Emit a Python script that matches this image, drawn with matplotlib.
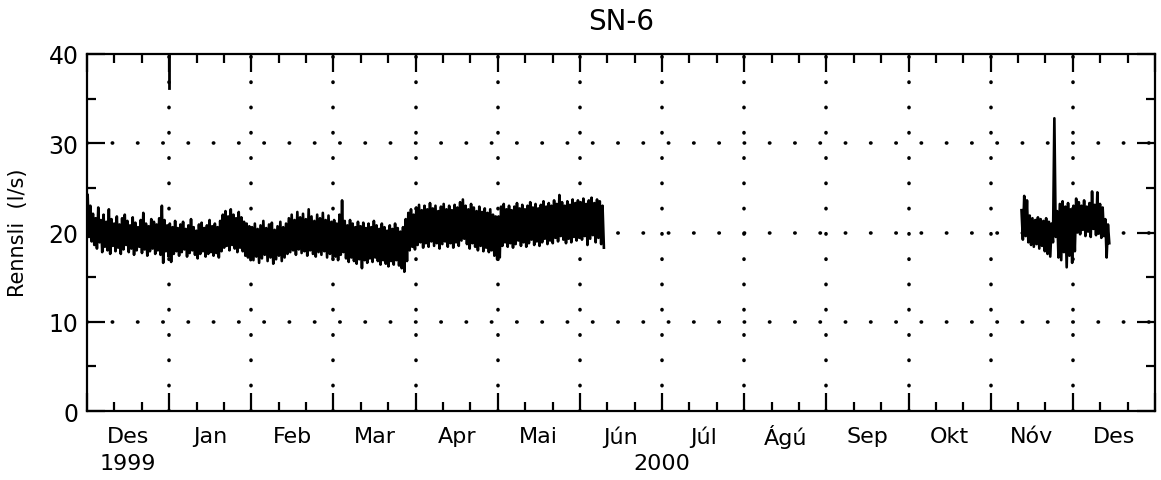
import numpy as np
import pandas as pd
import matplotlib
matplotlib.use("Agg")
import matplotlib.pyplot as plt

# SN-6 flow, daily high and low readings (l/s)
# first logger run: 1 Dec 1999 - 9 Jun 2000
start1 = "1999-12-01"
hi1 = [24.2, 23.0, 22.1, 21.6, 22.8, 21.4, 22.0, 21.2, 22.6, 21.5, 21.0, 21.8, 20.9, 21.6, 22.0, 21.3,
       20.8, 21.7, 21.1, 20.6, 21.4, 22.2, 21.0, 20.7, 21.5, 21.2, 20.9, 21.6, 23.0, 21.4, 20.8,  # des
       21.0, 20.6, 21.3, 20.5, 20.9, 21.2, 20.4, 20.8, 21.5, 20.6, 20.2, 20.9, 21.1, 20.5, 20.8, 21.4,
       20.7, 21.0, 20.6, 21.3, 22.0, 22.4, 21.8, 22.6, 22.0, 21.6, 22.3, 21.7, 21.2, 21.0, 20.7,  # jan
       20.6, 21.0, 20.4, 20.8, 21.3, 20.5, 20.9, 21.1, 20.3, 20.7, 21.2, 20.6, 21.0, 21.6, 22.0, 21.4,
       22.3, 21.7, 22.1, 21.5, 22.6, 21.8, 21.3, 22.0, 21.6, 22.2, 21.4, 21.9, 21.2,  # feb
       21.4, 21.0, 22.0, 23.6, 21.3, 20.8, 21.4, 21.0, 20.6, 21.2, 20.7, 21.1, 20.5, 21.0, 20.6, 21.3,
       20.8, 20.4, 21.0, 20.6, 20.2, 20.8, 20.4, 21.0, 20.5, 20.1, 20.6, 21.5, 22.2, 22.6, 22.0,  # mar
       22.8, 23.1, 22.5, 23.0, 22.6, 23.3, 22.7, 23.0, 22.4, 22.9, 23.2, 22.6, 23.0, 22.5, 23.1, 22.8,
       23.4, 23.7, 23.0, 22.6, 23.2, 22.8, 22.4, 22.9, 22.3, 22.7, 22.2, 22.6, 22.0, 21.8,  # apr
       21.8, 22.9, 23.2, 22.6, 23.0, 22.5, 22.9, 23.3, 22.7, 23.1, 22.6, 23.0, 23.4, 22.8, 23.2, 22.7,
       23.1, 23.5, 22.9, 23.3, 23.0, 23.6, 23.2, 24.2, 23.4, 23.0, 23.5, 23.1, 23.7, 23.3, 23.6,  # mai
       23.4, 23.8, 23.2, 23.6, 23.9, 23.3, 23.7, 23.5, 23.0]  # jun
lo1 = [19.5, 19.0, 18.6, 18.2, 18.9, 17.8, 18.4, 18.0, 17.6, 18.5, 17.9, 18.3, 17.6, 18.1, 18.6, 17.8,
       18.2, 17.5, 18.0, 18.4, 17.7, 18.1, 17.4, 17.9, 18.2, 17.6, 18.0, 17.5, 16.6, 17.9, 17.3,
       16.7, 17.6, 17.9, 17.4, 17.8, 18.1, 17.3, 17.7, 18.0, 17.5, 17.1, 17.6, 17.9, 17.3, 17.6, 17.8,
       17.4, 17.7, 17.2, 17.9, 18.3, 18.5, 18.0, 18.6, 18.2, 17.8, 18.3, 17.9, 17.4, 17.2, 16.9,
       16.9, 17.3, 16.6, 17.1, 17.5, 16.8, 17.2, 16.5, 17.0, 17.4, 16.8, 17.2, 17.6, 17.8, 18.0, 17.5,
       18.1, 17.7, 17.9, 17.4, 18.0, 17.6, 17.3, 17.8, 17.5, 17.9, 17.2, 17.6, 17.1,
       17.3, 16.9, 17.5, 17.8, 17.1, 16.7, 17.2, 16.8, 16.5, 17.0, 16.0, 16.9, 16.6, 17.1, 16.7, 17.2,
       16.8, 16.4, 16.9, 16.5, 16.2, 16.8, 16.4, 16.9, 16.3, 16.0, 15.6, 16.8, 18.0, 18.4, 18.1,
       18.6, 18.9, 18.3, 18.8, 18.4, 19.0, 18.5, 18.8, 18.2, 18.7, 19.0, 18.4, 18.8, 18.3, 18.9, 18.5,
       19.1, 19.3, 18.7, 18.2, 18.8, 18.4, 18.0, 18.5, 17.9, 18.3, 17.8, 18.0, 17.4, 17.0,
       17.2, 18.5, 18.9, 18.4, 18.8, 18.3, 18.7, 19.1, 18.5, 18.9, 18.4, 18.8, 19.2, 18.6, 19.0, 18.5,
       18.9, 19.3, 18.7, 19.1, 18.8, 19.4, 19.0, 19.6, 19.2, 18.8, 19.3, 18.9, 19.5, 19.1, 19.4,
       19.2, 19.6, 18.6, 19.3, 19.7, 18.9, 19.4, 18.7, 18.3]

# second run: 12 Nov - 14 Dec 2000
start2 = "2000-11-12"
hi2 = [22.5, 24.1, 23.6, 21.9, 21.6, 21.4, 21.7, 21.5, 21.3, 21.6, 21.2, 21.0, 32.8, 22.4, 23.2, 23.5,
       22.9, 23.3, 22.6, 23.0, 23.8, 23.4, 23.0, 23.6, 22.9, 23.3, 24.6, 23.1, 24.5, 23.2, 22.8, 21.5, 20.9]
lo2 = [19.2, 19.6, 18.9, 18.6, 18.4, 18.7, 18.2, 18.5, 17.9, 17.6, 17.3, 18.9, 19.5, 17.2, 16.9, 17.8,
       16.1, 17.4, 16.6, 17.9, 20.0, 19.8, 20.3, 19.6, 20.1, 19.5, 20.4, 19.7, 19.9, 19.4, 19.6, 17.2, 18.8]

months = ["Des", "Jan", "Feb", "Mar", "Apr", "Mai", "Jún", "Júl", "Ágú", "Sep", "Okt", "Nóv", "Des"]


def month_pos(dates, frac):
    # every month gets the same width on this axis, Des 1999 = [0, 1)
    return ((dates.year - 1999) * 12 + dates.month - 12
            + (dates.day - 1 + frac) / dates.days_in_month).to_numpy()


def zigzag(start, hi, lo):
    d = pd.date_range(start, periods=len(hi), freq="D")
    x = np.column_stack([month_pos(d, 0.25), month_pos(d, 0.75)]).ravel()
    y = np.column_stack([hi, lo]).ravel()
    return x, y


fig = plt.figure(figsize=(11.61, 4.81), dpi=100)
ax = fig.add_axes([87 / 1161, 1 - 412 / 481, 1068 / 1161, 357 / 481])

dots = dict(color="k", lw=2.6, ls=(0, (0.1, 6.9)), dash_capstyle="round", zorder=1)
for xv in range(1, 13):
    ax.axvline(xv, **dots)
for yv in (10, 20, 30):
    ax.axhline(yv, **dots)
ax.axvline(1, ymin=0.905, ymax=1, color="k", lw=2)

for start, hi, lo in [(start1, hi1, lo1), (start2, hi2, lo2)]:
    ax.plot(*zigzag(start, hi, lo), color="k", lw=1.9, zorder=3)

ax.set_xlim(0, 13)
ax.set_ylim(0, 40)
ax.set_xticks(np.arange(0, 14))
ax.set_xticks(np.arange(0, 13.01, 1 / 3), minor=True)
ax.set_yticks([0, 10, 20, 30, 40])
ax.set_yticks([5, 15, 25, 35], minor=True)
ax.tick_params(which="both", direction="in", top=True, right=True,
               labelbottom=False, width=1.6, pad=6)
ax.tick_params(which="major", length=13, labelsize=17)
ax.tick_params(which="minor", length=6.5)
for s in ax.spines.values():
    s.set_linewidth(1.6)

for i, m in enumerate(months):
    ax.text(i + 0.5, -0.07, m, transform=ax.get_xaxis_transform(),
            ha="center", va="center", fontsize=16)
ax.text(0.5, -0.146, "1999", transform=ax.get_xaxis_transform(),
        ha="center", va="center", fontsize=16)
ax.text(7.0, -0.146, "2000", transform=ax.get_xaxis_transform(),
        ha="center", va="center", fontsize=16)

fig.text(0.5 * (87 + 1155) / 1161, 1 - 22 / 481, "SN-6", ha="center", va="center", fontsize=20)
fig.text(18 / 1161, 1 - 233 / 481, "Rennsli  (l/s)", rotation=90,
         ha="center", va="center", fontsize=15)

fig.savefig("out.png", dpi=100)
